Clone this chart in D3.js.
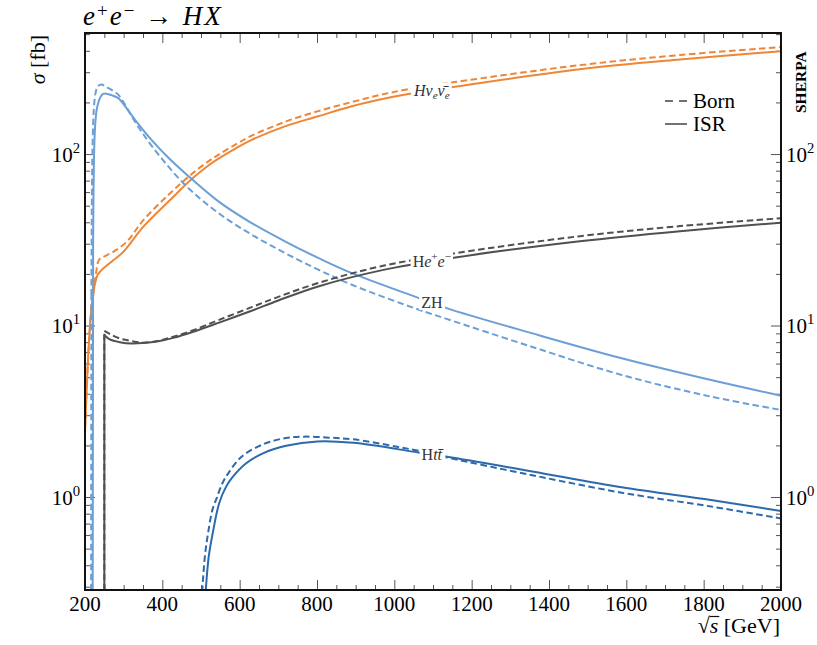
<!DOCTYPE html>
<html lang="en">
<head>
<meta charset="utf-8">
<title>e+e- to HX</title>
<script src="https://cdn.jsdelivr.net/npm/d3@7"></script>
<style>
  body { margin: 0; background: white; }
  svg { background: white; font-family: "Liberation Serif", "DejaVu Serif", serif; }
  .frame { fill: none; stroke: #111; stroke-width: 2; }
  .tick line { stroke: #555; }
  .domain { display: none; }
</style>
</head>
<body>
<div id="chart"></div>
<script>
// [sqrt(s) in GeV, sigma in fb]
var zhBorn = [[215.5,0.05],[216.5,15],[218,60],[220,125],[223,185],[227,225],[233,248],[243,254],[255,246],
  [270,236],[286,222],[300,200],[329,155],[372,112],[459,66],[545,45.3],[631,33.9],[717,26.5],[803,21.2],
  [890,17.3],[1062,12.4],[1137,10.9],[1357,7.5],[1588,5.15],[1819,3.85],[2000,3.22]];
var zhIsr = [[219.5,0.05],[221,30],[223,90],[226,144],[230,180],[234,198],[240,215],[247,224],[255,225],
  [270,220],[286,212],[300,195],[329,159],[372,121],[415,95.5],[459,77.4],[545,53],[631,39.6],[717,31],
  [803,24.8],[890,20.2],[1062,14.5],[1137,12.6],[1357,9.0],[1588,6.44],[1819,4.81],[2000,3.90]];

var hvvBorn = [[200,2.5],[205,4.6],[211,8.6],[216,12.2],[221.5,15.4],[228,19.8],[234,23.6],[239,24.6],
  [250,25.3],[273,26.9],[308,30.8],[351,41.2],[420,59],[476,76.5],[520,91],[545,99],[590,114],[631,128],
  [717,154],[803,178],[890,201],[963,221],[1036,239],[1152,262],[1480,330],[1739,378],[2000,421]];
var hvvIsr = [[200,2.45],[204,4.0],[208.6,6.9],[213,10],[217,12.9],[222,15.5],[226,17.6],[232,19.6],
  [239,20.6],[247,21.5],[273,24.0],[299,26.9],[351,37.7],[420,53.9],[476,71.5],[520,86],[545,94],
  [590,108],[631,121],[717,145],[803,166],[890,190],[963,208],[1036,224],[1152,246],[1480,312],[1739,356],[2000,398]];

var heeBorn = [[250,0.05],[250,9.3],[265,8.9],[290,8.4],[316,8.15],[350,7.95],[390,8.15],[431,8.65],
  [480,9.4],[547,10.8],[631,12.8],[700,14.7],[803,17.7],[963,22.1],[1162,26.5],[1480,33.2],[1739,38.0],[2000,42.2]];
var heeIsr = [[250,0.05],[250,8.8],[255,8.6],[264,8.3],[290,8.0],[320,7.85],[350,7.9],[390,8.1],
  [431,8.5],[480,9.2],[547,10.4],[631,12.2],[700,14.0],[803,16.9],[963,20.9],[1162,25.0],[1480,31.0],[1739,35.5],[2000,39.8]];

var httBorn = [[500,0.05],[503,0.28],[510,0.45],[518,0.61],[530,0.85],[541,0.99],[555,1.2],[570,1.37],
  [605,1.72],[663,2.04],[720,2.21],[767,2.25],[830,2.22],[894,2.17],[1010,1.96],[1062,1.86],[1137,1.70],
  [1357,1.34],[1588,1.06],[1819,0.88],[2000,0.75]];
var httIsr = [[509,0.05],[512,0.28],[520,0.45],[530,0.61],[547,0.92],[565,1.15],[582,1.31],[616,1.57],
  [663,1.81],[720,1.99],[801,2.11],[894,2.07],[1062,1.82],[1137,1.72],[1357,1.41],[1588,1.14],[1819,0.96],[2000,0.83]];

var xTicks = [200, 400, 600, 800, 1000, 1200, 1400, 1600, 1800, 2000];
var yTicks = [1, 10, 100];
var yTickExp = ["0", "1", "2"];

var processes = [
  {name: "hvv", color: "#ef8636", born: hvvBorn, isr: hvvIsr},
  {name: "zh",  color: "#6b9fd6", born: zhBorn,  isr: zhIsr},
  {name: "hee", color: "#505050", born: heeBorn, isr: heeIsr},
  {name: "htt", color: "#2c69ad", born: httBorn, isr: httIsr}
];

// inline labels: placed on the ISR curve at sqrt(s) = at
var lineLabels = [
  {name: "hvv", at: 1097, parts: [{t:"H",i:1},{t:"ν",i:1},{t:"e",i:1,sub:1},{t:"ν\u0304",i:1},{t:"e",i:1,sub:1}]},
  {name: "hee", at: 1097, parts: [{t:"H"},{t:"e",i:1},{t:"+",sup:1},{t:"e",i:1},{t:"−",sup:1}]},
  {name: "zh",  at: 1097, parts: [{t:"ZH"}]},
  {name: "htt", at: 1097, parts: [{t:"H"},{t:"t",i:1},{t:"t\u0304",i:1}]}
];

var W = 817, H = 645;
var margin = {left: 85, right: 781, top: 33, bottom: 590};

var svg = d3.select("#chart").append("svg")
    .attr("width", W)
    .attr("height", H);

var x = d3.scaleLinear().domain([200, 2000]).range([margin.left, margin.right]);
var y = d3.scaleLog().domain([0.287, 508]).range([margin.bottom, margin.top]);

// rich text with sub/superscripts
function rich(sel, parts, size, supShift) {
    var shift = 0;
    var up = supShift || 0.42;
    parts.forEach(function(p) {
        var target = p.sup ? -up * size : (p.sub ? 0.22 * size : 0);
        var t = sel.append("tspan").text(p.t).attr("dy", target - shift);
        shift = target;
        if (p.sup || p.sub) t.style("font-size", (0.7 * size) + "px");
        if (p.i) t.style("font-style", "italic");
    });
    return sel;
}

// minor ticks
var xMinor = d3.range(200, 2001, 50).filter(function(d) { return d % 200 != 0; });
var yMinor = [];
[0.1, 1, 10, 100].forEach(function(b) {
    for (var k = 2; k <= 9; k++) {
        var v = b * k;
        if (v > 0.287 && v < 508) yMinor.push(v);
    }
});

function drawAxis(axisFn, scale, vals, size, tx, ty) {
    svg.append("g")
        .attr("transform", "translate(" + tx + "," + ty + ")")
        .call(axisFn(scale).tickValues(vals).tickSizeInner(size).tickSizeOuter(0).tickFormat(""))
        .selectAll("line").style("stroke-width", 1);
}
drawAxis(d3.axisBottom, x, xTicks, -10, 0, margin.bottom);
drawAxis(d3.axisBottom, x, xMinor, -5, 0, margin.bottom);
drawAxis(d3.axisTop, x, xTicks, -10, 0, margin.top);
drawAxis(d3.axisTop, x, xMinor, -5, 0, margin.top);
drawAxis(d3.axisLeft, y, yTicks, -10, margin.left, 0);
drawAxis(d3.axisLeft, y, yMinor, -5, margin.left, 0);
drawAxis(d3.axisRight, y, yTicks, -10, margin.right, 0);
drawAxis(d3.axisRight, y, yMinor, -5, margin.right, 0);

// x tick labels
svg.selectAll(".xlab")
    .data(xTicks)
    .enter().append("text")
    .attr("class", "xlab")
    .attr("x", function(d) { return x(d); })
    .attr("y", 611)
    .attr("text-anchor", "middle")
    .style("font-size", "21px")
    .text(function(d) { return d; });

// y tick labels, both sides
yTicks.forEach(function(v, i) {
    var ty = y(v) + 0.36 * 21;
    rich(svg.append("text").attr("x", 80).attr("y", ty).attr("text-anchor", "end").style("font-size", "21px"),
        [{t: "10"}, {t: yTickExp[i], sup: 1}], 21);
    rich(svg.append("text").attr("x", 786).attr("y", ty).attr("text-anchor", "start").style("font-size", "21px"),
        [{t: "10"}, {t: yTickExp[i], sup: 1}], 21);
});

// curves
svg.append("clipPath").attr("id", "plotclip")
    .append("rect")
    .attr("x", margin.left).attr("y", margin.top)
    .attr("width", margin.right - margin.left).attr("height", margin.bottom - margin.top);

var smooth = d3.line()
    .x(function(d) { return x(d[0]); })
    .y(function(d) { return y(d[1]); })
    .curve(d3.curveCatmullRom.alpha(0.5));
var straight = d3.line()
    .x(function(d) { return x(d[0]); })
    .y(function(d) { return y(d[1]); });

// threshold step drawn straight, the rest smooth
function curvePath(data) {
    return straight(data.slice(0, 2)) + smooth(data.slice(1));
}

var plot = svg.append("g").attr("clip-path", "url(#plotclip)");

processes.forEach(function(p) {
    plot.append("path")
        .attr("d", curvePath(p.born))
        .style("fill", "none")
        .style("stroke", p.color)
        .style("stroke-width", 2)
        .style("stroke-dasharray", "6.5,3.5");
    plot.append("path")
        .attr("d", curvePath(p.isr))
        .style("fill", "none")
        .style("stroke", p.color)
        .style("stroke-width", 2);
});

// value on a series by log-linear interpolation
function valueAt(series, e) {
    for (var i = 1; i < series.length; i++) {
        if (series[i][0] >= e) {
            var a = series[i - 1], b = series[i];
            var f = (e - a[0]) / (b[0] - a[0]);
            return Math.exp(Math.log(a[1]) + f * (Math.log(b[1]) - Math.log(a[1])));
        }
    }
    return series[series.length - 1][1];
}

lineLabels.forEach(function(l) {
    var p = processes.filter(function(q) { return q.name == l.name; })[0];
    var ly = y(valueAt(p.isr, l.at));
    var g = plot.append("g");
    var t = g.append("text")
        .attr("x", x(l.at))
        .attr("y", ly + 0.33 * 16)
        .attr("text-anchor", "middle")
        .style("font-size", "16px")
        .style("fill", "#333");
    rich(t, l.parts, 16);
    var bb = t.node().getBBox();
    g.insert("rect", "text")
        .attr("x", bb.x - 2)
        .attr("y", bb.y + 1)
        .attr("width", bb.width + 4)
        .attr("height", bb.height - 2)
        .style("fill", "white");
});

// frame
svg.append("rect")
    .attr("class", "frame")
    .attr("x", margin.left).attr("y", margin.top)
    .attr("width", margin.right - margin.left).attr("height", margin.bottom - margin.top);

// title
rich(svg.append("text").attr("x", 83).attr("y", 25)
        .style("font-size", "27px").style("letter-spacing", "2px"),
    [{t: "e", i: 1}, {t: "+", sup: 1}, {t: "e", i: 1}, {t: "−", sup: 1}, {t: " → "}, {t: "HX", i: 1}], 27, 0.3);

// axis labels
rich(svg.append("text")
        .attr("transform", "translate(45,35) rotate(-90)")
        .attr("text-anchor", "end")
        .style("font-size", "22px"),
    [{t: "σ", i: 1}, {t: " [fb]"}], 22);

var xl = svg.append("text")
    .attr("x", 780).attr("y", 633)
    .attr("text-anchor", "end")
    .style("font-size", "22px");
rich(xl, [{t: "√"}, {t: "s", i: 1}, {t: " [GeV]"}], 22);
// vinculum over s
var rb = xl.selectAll("tspan").nodes()[0].getBBox();
var sb = xl.selectAll("tspan").nodes()[1].getBBox();
svg.append("line")
    .attr("x1", rb.x + rb.width - 1).attr("x2", sb.x + sb.width + 1)
    .attr("y1", rb.y + 3.5).attr("y2", rb.y + 3.5)
    .style("stroke", "#111").style("stroke-width", 1.2);

svg.append("text")
    .attr("transform", "translate(806,113) rotate(-90)")
    .style("font-size", "15.5px")
    .style("font-weight", "bold")
    .text("SHERPA");

// legend
var legend = [{label: "Born", dash: "8,6", ly: 101}, {label: "ISR", dash: null, ly: 124}];
legend.forEach(function(d) {
    svg.append("line")
        .attr("x1", 665).attr("x2", 687)
        .attr("y1", d.ly).attr("y2", d.ly)
        .style("stroke", "#444")
        .style("stroke-width", 1.5)
        .style("stroke-dasharray", d.dash);
    svg.append("text")
        .attr("x", 693).attr("y", d.ly + 6.5)
        .style("font-size", "21px")
        .text(d.label);
});
</script>
</body>
</html>
